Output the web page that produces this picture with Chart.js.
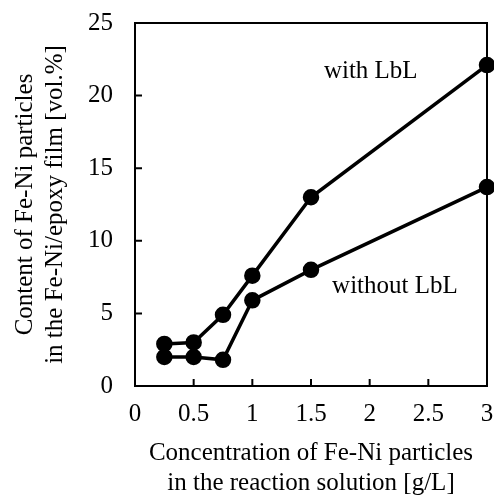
<!DOCTYPE html>
<html>
<head>
<meta charset="utf-8">
<script src="https://cdn.jsdelivr.net/npm/chart.js@4.4.1/dist/chart.umd.min.js"></script>
<style>
  html, body { margin: 0; padding: 0; background: #fff; }
  #wrap { width: 494px; height: 497px; }
</style>
</head>
<body>
<div id="wrap"><canvas id="chart"></canvas></div>
<script>
// concentration of Fe-Ni particles [g/L]
const concentration = [0.25, 0.5, 0.75, 1, 1.5, 3];
const withLbL = [2.9, 3.0, 4.9, 7.6, 13.0, 22.1];
const withoutLbL = [2.0, 2.0, 1.8, 5.9, 8.0, 13.7];

const xTicks = [0, 0.5, 1, 1.5, 2, 2.5, 3];
const yTicks = [0, 5, 10, 15, 20, 25];

const notes = [
    {text: 'with LbL', x: 1.61, y: 21.65},
    {text: 'without LbL', x: 1.68, y: 6.85}
];

const font = {family: 'Liberation Serif', size: 25};

function toPoints(ys) {
    return concentration.map((x, i) => ({x: x, y: ys[i]}));
}

// frame + inward ticks + the two labels
const framePlugin = {
    id: 'frame',
    afterDraw(chart) {
        const ctx = chart.ctx;
        const a = chart.chartArea;
        const xs = chart.scales.x, ys = chart.scales.y;
        ctx.save();
        ctx.strokeStyle = '#000';
        ctx.lineWidth = 2;
        ctx.strokeRect(a.left, a.top, a.right - a.left, a.bottom - a.top);
        ctx.beginPath();
        xTicks.forEach(v => {
            const px = xs.getPixelForValue(v);
            ctx.moveTo(px, a.bottom);
            ctx.lineTo(px, a.bottom - 7);
        });
        yTicks.forEach(v => {
            const py = ys.getPixelForValue(v);
            ctx.moveTo(a.left, py);
            ctx.lineTo(a.left + 7, py);
        });
        ctx.stroke();
        ctx.fillStyle = '#000';
        ctx.font = font.size + 'px ' + font.family;
        ctx.textAlign = 'left';
        ctx.textBaseline = 'middle';
        notes.forEach(n => {
            ctx.fillText(n.text, xs.getPixelForValue(n.x), ys.getPixelForValue(n.y));
        });
        ctx.restore();
    }
};

new Chart(document.querySelector('#chart').getContext('2d'), {
    type: 'line',
    data: {
        datasets: [
            {
                label: 'with LbL',
                data: toPoints(withLbL),
                borderColor: '#000',
                backgroundColor: '#000',
                borderWidth: 3.5,
                pointRadius: 6.5,
                pointBackgroundColor: '#000',
                clip: false
            },
            {
                label: 'without LbL',
                data: toPoints(withoutLbL),
                borderColor: '#000',
                backgroundColor: '#000',
                borderWidth: 3.5,
                pointRadius: 6.5,
                pointBackgroundColor: '#000',
                clip: false
            }
        ]
    },
    options: {
        responsive: true,
        maintainAspectRatio: false,
        animation: false,
        layout: {autoPadding: false, padding: {top: 23, right: 7, left: 0, bottom: 0}},
        plugins: {legend: {display: false}, tooltip: {enabled: false}},
        scales: {
            x: {
                type: 'linear',
                min: 0,
                max: 3,
                afterBuildTicks: s => { s.ticks = xTicks.map(v => ({value: v})); },
                afterFit: s => { s.height = 111; },
                // invisible tick marks only used as spacing before the labels
                grid: {display: false, drawTicks: true, tickLength: 13},
                border: {display: false},
                ticks: {color: '#000', font: font, padding: 0, maxRotation: 0,
                        callback: v => String(v)},
                title: {
                    display: true,
                    text: ['Concentration of Fe-Ni particles', 'in the reaction solution [g/L]'],
                    color: '#000',
                    font: font,
                    padding: {top: 0, bottom: -1}
                }
            },
            y: {
                min: 0,
                max: 25,
                afterBuildTicks: s => { s.ticks = yTicks.map(v => ({value: v})); },
                afterFit: s => { s.width = 135; },
                grid: {display: false, drawTicks: true, tickLength: 20},
                border: {display: false},
                ticks: {color: '#000', font: font, padding: 2, callback: v => String(v)},
                title: {
                    display: true,
                    text: ['Content of Fe-Ni particles', 'in the Fe-Ni/epoxy film [vol.%]'],
                    color: '#000',
                    font: font,
                    padding: {top: 10, bottom: 0}
                }
            }
        }
    },
    plugins: [framePlugin]
});
</script>
</body>
</html>
